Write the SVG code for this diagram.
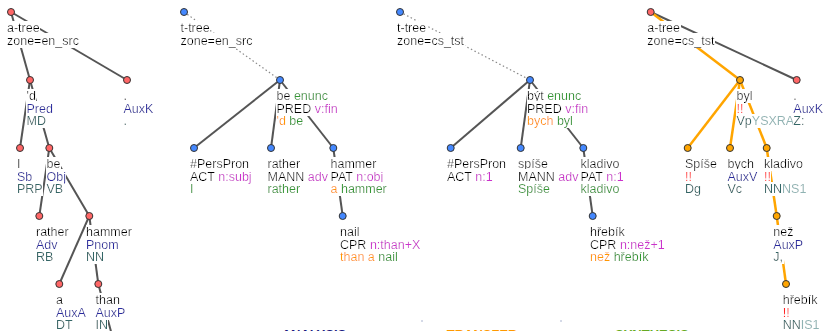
<svg xmlns="http://www.w3.org/2000/svg" width="823" height="331" viewBox="0 0 823 331">
<defs>
<filter id="bg" x="0" y="0" width="1" height="1"><feFlood flood-color="#ffffff" result="f"/><feComposite in="SourceGraphic" in2="f" operator="over"/></filter>
</defs>
<style>
.t{font-family:"Liberation Sans",Arial,sans-serif;font-size:12.5px;fill:#000;filter:url(#bg)}
.af{fill:#2a2aa0}.tg{fill:#336666}.gr{fill:#339933}.mg{fill:#cc33cc}.or{fill:#ff9900}.rd{fill:#ff2020}.lt{fill:#8fb3b3}
.e{stroke:#555;stroke-width:2;fill:none}
.eo{stroke:#ffa500;stroke-width:2.5;fill:none}
.ed{stroke:#888;stroke-width:1.2;stroke-dasharray:1.5 2.5;fill:none}
.na{fill:#ff6666;stroke:#333;stroke-width:1}
.nt{fill:#4488ff;stroke:#333;stroke-width:1}
.no{fill:#ffa500;stroke:#333;stroke-width:1}
.cap{font-family:"Liberation Sans",Arial,sans-serif;font-size:13px;font-weight:bold}
.sep{stroke:#aab4d0;stroke-width:1;stroke-dasharray:2 20}
</style>
<rect width="823" height="331" fill="#fff"/>
<g id="connectors">
<!-- tree 1 -->
<line class="e" x1="11" y1="12" x2="30" y2="80"/>
<line class="e" x1="11" y1="12" x2="127" y2="80"/>
<line class="e" x1="30" y1="80" x2="20" y2="148"/>
<line class="e" x1="30" y1="80" x2="49.3" y2="148"/>
<line class="e" x1="49.3" y1="148" x2="39.3" y2="216"/>
<line class="e" x1="49.3" y1="148" x2="89.3" y2="216"/>
<line class="e" x1="89.3" y1="216" x2="59.3" y2="284"/>
<line class="e" x1="89.3" y1="216" x2="98.3" y2="284"/>
<line class="e" x1="98.3" y1="284" x2="117" y2="354"/>
<!-- tree 2 -->
<line class="ed" x1="184" y1="12" x2="280" y2="80"/>
<line class="e" x1="280" y1="80" x2="194" y2="148"/>
<line class="e" x1="280" y1="80" x2="271" y2="148"/>
<line class="e" x1="280" y1="80" x2="333.3" y2="148"/>
<line class="e" x1="333.3" y1="148" x2="342.7" y2="216"/>
<!-- tree 3 -->
<line class="ed" x1="400" y1="12" x2="530" y2="80"/>
<line class="e" x1="530" y1="80" x2="450.7" y2="148"/>
<line class="e" x1="530" y1="80" x2="520.7" y2="148"/>
<line class="e" x1="530" y1="80" x2="583.3" y2="148"/>
<line class="e" x1="583.3" y1="148" x2="592.7" y2="216"/>
<!-- tree 4 -->
<line class="e" x1="650.7" y1="12" x2="796.7" y2="80"/>
<line class="eo" x1="650.7" y1="12" x2="740" y2="80"/>
<line class="eo" x1="740" y1="80" x2="687.7" y2="148"/>
<line class="eo" x1="740" y1="80" x2="730" y2="148"/>
<line class="eo" x1="740" y1="80" x2="766.7" y2="148"/>
<line class="eo" x1="766.7" y1="148" x2="776.7" y2="216"/>
<line class="eo" x1="776.7" y1="216" x2="786" y2="284"/>
<line class="sep" x1="422" y1="320" x2="422" y2="400"/>
<line class="sep" x1="561" y1="320" x2="561" y2="400"/>
</g>

<!-- Tree 1: a-tree en_src -->
<g id="a_en_root"><circle class="na" cx="11" cy="12" r="3.5"/>
<text class="t" x="7" y="32">a-tree</text><text class="t" x="7" y="44.5">zone=en_src</text></g>
<g id="a_en_d"><circle class="na" cx="30" cy="80" r="3.5"/>
<text class="t" x="26.5" y="100">'d</text><text class="t af" x="26.5" y="112.5">Pred</text><text class="t tg" x="26.5" y="125">MD</text></g>
<g id="a_en_auxk"><circle class="na" cx="127" cy="80" r="3.5"/>
<text class="t" x="123.5" y="100">.</text><text class="t af" x="123.5" y="112.5">AuxK</text><text class="t tg" x="123.5" y="125">.</text></g>
<g id="a_en_i"><circle class="na" cx="20" cy="148" r="3.5"/>
<text class="t" x="17" y="168">I</text><text class="t af" x="17" y="180.5">Sb</text><text class="t tg" x="17" y="193">PRP</text></g>
<g id="a_en_be"><circle class="na" cx="49.3" cy="148" r="3.5"/>
<text class="t" x="46.5" y="168">be</text><text class="t af" x="46.5" y="180.5">Obj</text><text class="t tg" x="46.5" y="193">VB</text></g>
<g id="a_en_rather"><circle class="na" cx="39.3" cy="216" r="3.5"/>
<text class="t" x="36" y="236">rather</text><text class="t af" x="36" y="248.5">Adv</text><text class="t tg" x="36" y="261">RB</text></g>
<g id="a_en_hammer"><circle class="na" cx="89.3" cy="216" r="3.5"/>
<text class="t" x="86" y="236">hammer</text><text class="t af" x="86" y="248.5">Pnom</text><text class="t tg" x="86" y="261">NN</text></g>
<g id="a_en_a"><circle class="na" cx="59.3" cy="284" r="3.5"/>
<text class="t" x="56" y="304">a</text><text class="t af" x="56" y="316.5">AuxA</text><text class="t tg" x="56" y="329">DT</text></g>
<g id="a_en_than"><circle class="na" cx="98.3" cy="284" r="3.5"/>
<text class="t" x="95.5" y="304">than</text><text class="t af" x="95.5" y="316.5">AuxP</text><text class="t tg" x="95.5" y="329">IN</text></g>

<!-- Tree 2: t-tree en_src -->
<g id="t_en_root"><circle class="nt" cx="184" cy="12" r="3.5"/>
<text class="t" x="180.5" y="32">t-tree</text><text class="t" x="180.5" y="44.5">zone=en_src</text></g>
<g id="t_en_be"><circle class="nt" cx="280" cy="80" r="3.5"/>
<text class="t" x="276.5" y="100">be <tspan class="gr">enunc</tspan></text>
<text class="t" x="276.5" y="112.5">PRED <tspan class="mg">v:fin</tspan></text>
<text class="t" x="276.5" y="125"><tspan class="or">'d</tspan> <tspan class="gr">be</tspan></text></g>
<g id="t_en_pers"><circle class="nt" cx="194" cy="148" r="3.5"/>
<text class="t" x="190" y="168">#PersPron</text>
<text class="t" x="190" y="180.5">ACT <tspan class="mg">n:subj</tspan></text>
<text class="t gr" x="190" y="193">I</text></g>
<g id="t_en_rather"><circle class="nt" cx="271" cy="148" r="3.5"/>
<text class="t" x="267.5" y="168">rather</text>
<text class="t" x="267.5" y="180.5">MANN <tspan class="mg">adv</tspan></text>
<text class="t gr" x="267.5" y="193">rather</text></g>
<g id="t_en_hammer"><circle class="nt" cx="333.3" cy="148" r="3.5"/>
<text class="t" x="330.5" y="168">hammer</text>
<text class="t" x="330.5" y="180.5">PAT <tspan class="mg">n:obj</tspan></text>
<text class="t" x="330.5" y="193"><tspan class="or">a</tspan> <tspan class="gr">hammer</tspan></text></g>
<g id="t_en_nail"><circle class="nt" cx="342.7" cy="216" r="3.5"/>
<text class="t" x="340" y="236">nail</text>
<text class="t" x="340" y="248.5">CPR <tspan class="mg">n:than+X</tspan></text>
<text class="t" x="340" y="261"><tspan class="or">than a</tspan> <tspan class="gr">nail</tspan></text></g>

<!-- Tree 3: t-tree cs_tst -->
<g id="t_cs_root"><circle class="nt" cx="400" cy="12" r="3.5"/>
<text class="t" x="397" y="32">t-tree</text><text class="t" x="397" y="44.5">zone=cs_tst</text></g>
<g id="t_cs_byt"><circle class="nt" cx="530" cy="80" r="3.5"/>
<text class="t" x="527" y="100">být <tspan class="gr">enunc</tspan></text>
<text class="t" x="527" y="112.5">PRED <tspan class="mg">v:fin</tspan></text>
<text class="t" x="527" y="125"><tspan class="or">bych</tspan> <tspan class="gr">byl</tspan></text></g>
<g id="t_cs_pers"><circle class="nt" cx="450.7" cy="148" r="3.5"/>
<text class="t" x="447" y="168">#PersPron</text>
<text class="t" x="447" y="180.5">ACT <tspan class="mg">n:1</tspan></text></g>
<g id="t_cs_spise"><circle class="nt" cx="520.7" cy="148" r="3.5"/>
<text class="t" x="518" y="168">spíše</text>
<text class="t" x="518" y="180.5">MANN <tspan class="mg">adv</tspan></text>
<text class="t gr" x="518" y="193">Spíše</text></g>
<g id="t_cs_kladivo"><circle class="nt" cx="583.3" cy="148" r="3.5"/>
<text class="t" x="580.5" y="168">kladivo</text>
<text class="t" x="580.5" y="180.5">PAT <tspan class="mg">n:1</tspan></text>
<text class="t gr" x="580.5" y="193">kladivo</text></g>
<g id="t_cs_hrebik"><circle class="nt" cx="592.7" cy="216" r="3.5"/>
<text class="t" x="590" y="236">hřebík</text>
<text class="t" x="590" y="248.5">CPR <tspan class="mg">n:než+1</tspan></text>
<text class="t" x="590" y="261"><tspan class="or">než</tspan> <tspan class="gr">hřebík</tspan></text></g>

<!-- Tree 4: a-tree cs_tst -->
<g id="a_cs_root"><circle class="na" cx="650.7" cy="12" r="3.5"/>
<text class="t" x="647.3" y="32">a-tree</text><text class="t" x="647.3" y="44.5">zone=cs_tst</text></g>
<g id="a_cs_byl"><circle class="no" cx="740" cy="80" r="3.5"/>
<text class="t" x="736.5" y="100">byl</text>
<text class="t rd" x="736.5" y="112.5">!!</text>
<text class="t tg" x="736.5" y="125">Vp<tspan class="lt">YSXRA</tspan></text></g>
<g id="a_cs_auxk"><circle class="na" cx="796.7" cy="80" r="3.5"/>
<text class="t" x="793.3" y="100">.</text>
<text class="t af" x="793.3" y="112.5">AuxK</text>
<text class="t tg" x="793.3" y="125">Z:</text></g>
<g id="a_cs_spise"><circle class="no" cx="687.7" cy="148" r="3.5"/>
<text class="t" x="685" y="168">Spíše</text>
<text class="t rd" x="685" y="180.5">!!</text>
<text class="t tg" x="685" y="193">Dg</text></g>
<g id="a_cs_bych"><circle class="no" cx="730" cy="148" r="3.5"/>
<text class="t" x="727.5" y="168">bych</text>
<text class="t af" x="727.5" y="180.5">AuxV</text>
<text class="t tg" x="727.5" y="193">Vc</text></g>
<g id="a_cs_kladivo"><circle class="no" cx="766.7" cy="148" r="3.5"/>
<text class="t" x="764" y="168">kladivo</text>
<text class="t rd" x="764" y="180.5">!!</text>
<text class="t tg" x="764" y="193">NN<tspan class="lt">NS1</tspan></text></g>
<g id="a_cs_nez"><circle class="no" cx="776.7" cy="216" r="3.5"/>
<text class="t" x="773.3" y="236">než</text>
<text class="t af" x="773.3" y="248.5">AuxP</text>
<text class="t tg" x="773.3" y="261">J,</text></g>
<g id="a_cs_hrebik"><circle class="no" cx="786" cy="284" r="3.5"/>
<text class="t" x="782.7" y="304">hřebík</text>
<text class="t rd" x="782.7" y="316.5">!!</text>
<text class="t tg" x="782.7" y="329">NN<tspan class="lt">IS1</tspan></text></g>

<g id="captions">
<text class="cap" x="281.7" y="338.5" fill="#1a1a80">ANALYSIS</text>
<text class="cap" x="446.7" y="338.5" fill="#ff9900">TRANSFER</text>
<text class="cap" x="615" y="338.5" fill="#66aa22">SYNTHESIS</text>
</g>
</svg>
